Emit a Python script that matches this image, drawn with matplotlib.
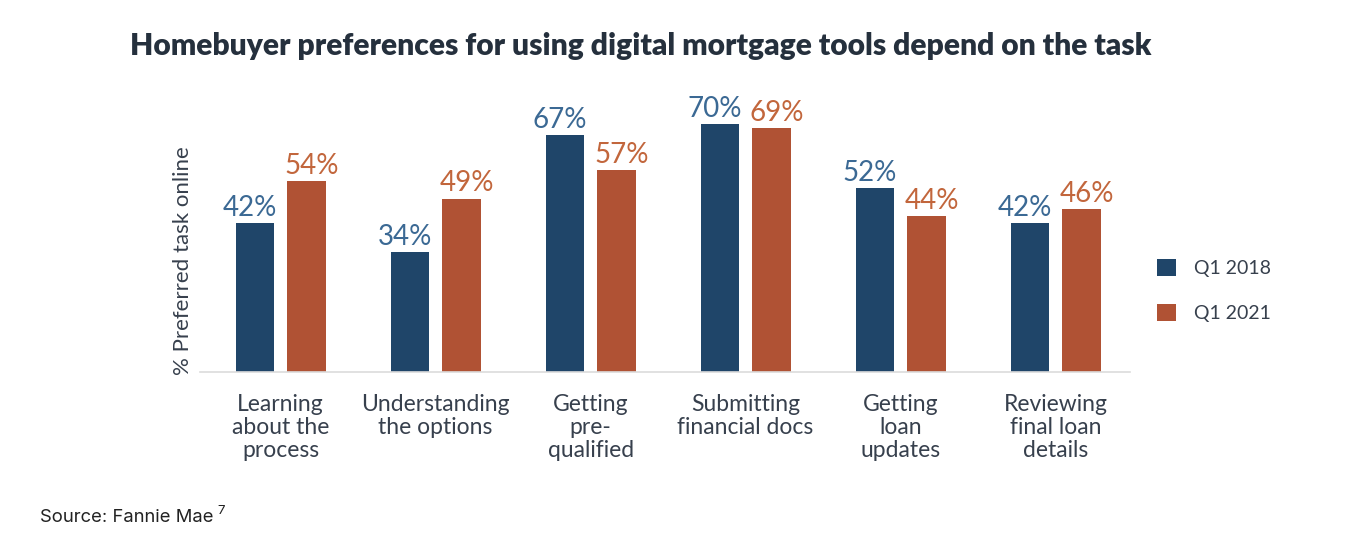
import matplotlib.pyplot as plt
import numpy as np

categories = ["Learning\nabout the\nprocess", "Understanding\nthe options", "Getting\npre-\nqualified",
              "Submitting\nfinancial docs", "Getting\nloan\nupdates", "Reviewing\nfinal loan\ndetails"]
q1_2018 = [42, 34, 67, 70, 52, 42]
q1_2021 = [54, 49, 57, 69, 44, 46]
series_names = ["Q1 2018", "Q1 2021"]

BLUE = "#1f4569"
ORANGE = "#b05234"
BLUE_TXT = "#3b6994"
ORANGE_TXT = "#c2663c"
TEXT = "#37404d"

plt.rcParams["font.family"] = ["Lato", "DejaVu Sans"]

fig = plt.figure(figsize=(13.66, 5.46), dpi=100)
ax = fig.add_axes([200 / 1366, 1 - 372 / 546, 930 / 1366, 272 / 546])

x = np.arange(len(categories))
w = 0.25
off = 0.165
b1 = ax.bar(x - off, q1_2018, w, color=BLUE, label=series_names[0])
b2 = ax.bar(x + off, q1_2021, w, color=ORANGE, label=series_names[1])

# value labels sit slightly outward from the bar centres, as in the original
shift = 0.035
for rect, v in zip(b1, q1_2018):
    ax.text(rect.get_x() + rect.get_width() / 2 - shift, v + 0.6, f"{v}%", ha="center", va="bottom",
            fontsize=20, color=BLUE_TXT)
for rect, v in zip(b2, q1_2021):
    ax.text(rect.get_x() + rect.get_width() / 2 + shift, v + 0.6, f"{v}%", ha="center", va="bottom",
            fontsize=20, color=ORANGE_TXT)

ax.set_xlim(-0.52, 5.48)
ax.set_ylim(0, 272 / 3.54)
ax.set_xticks(x)
ax.set_xticklabels(categories, fontsize=16.5, color=TEXT, linespacing=1.1, va="top")
ax.tick_params(axis="x", length=0, pad=16)
ax.set_yticks([])
for s in ["top", "right", "left"]:
    ax.spines[s].set_visible(False)
ax.spines["bottom"].set_color("#dcdcdc")
ax.spines["bottom"].set_linewidth(1.2)
ax.set_ylabel("% Preferred task online", fontsize=16, color=TEXT)
ax.yaxis.set_label_coords(-0.007, 0.41)

leg = ax.legend(loc="center left", bbox_to_anchor=(1.01, 0.30), frameon=False, fontsize=14,
                handlelength=1.0, handleheight=1.0, labelspacing=1.35, handletextpad=0.9)
for t in leg.get_texts():
    t.set_color(TEXT)

fig.text(130 / 1366, 1 - 46 / 546, "Homebuyer preferences for using digital mortgage tools depend on the task",
         fontsize=21.6, fontweight="heavy", color="#25303d", va="center", ha="left")
fig.text(40 / 1366, 1 - 517 / 546, "Source: Fannie Mae", fontsize=13.3, color="#222222",
         family="Inter", va="center")
fig.text(217 / 1366, 1 - 511 / 546, "7", fontsize=9.5, color="#222222", family="Inter", va="center")

fig.savefig("out.png", dpi=100)
